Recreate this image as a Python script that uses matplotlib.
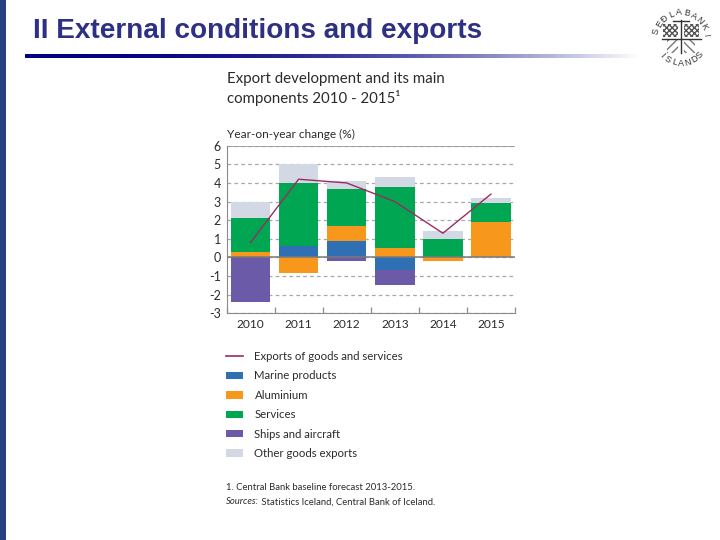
import numpy as np
import matplotlib
matplotlib.use('Agg')
import matplotlib.pyplot as plt
from matplotlib.patches import Rectangle
from matplotlib.lines import Line2D

years = ['2010', '2011', '2012', '2013', '2014', '2015']
y_ticks = [-3, -2, -1, 0, 1, 2, 3, 4, 5, 6]

# stacked components, same order as the legend
marine = [0, 0.6, 0.9, -0.7, 0, 0]
aluminium = [0.3, -0.85, 0.8, 0.5, -0.2, 1.9]
services = [1.8, 3.4, 2.0, 3.3, 1.0, 1.0]
ships = [-2.4, 0, -0.2, -0.8, 0, 0]
other = [0.9, 1.0, 0.4, 0.5, 0.4, 0.3]
exports = [0.8, 4.2, 4.0, 3.0, 1.3, 3.4]

series_names = ['Marine products', 'Aluminium', 'Services', 'Ships and aircraft', 'Other goods exports']
series_values = [marine, aluminium, services, ships, other]
series_colors = ['#2f6fb3', '#f7981d', '#00a651', '#6a5aa8', '#d3d9e4']

FONT = 'Lato'
TEXT = '#2b2b2b'
W, H = 720, 540


def px_axes(fig, left, top, right, bottom):
    # axes position given in image pixels
    return fig.add_axes([left / W, 1 - bottom / H, (right - left) / W, (bottom - top) / H])


fig = plt.figure(figsize=(7.2, 5.4), dpi=100)

# slide furniture, in pixel coordinates
bg = fig.add_axes([0, 0, 1, 1])
bg.set_xlim(0, W)
bg.set_ylim(H, 0)
bg.axis('off')
bg.add_patch(Rectangle((0, 0), 5.5, H, color='#27407f', lw=0))
bg.text(33, 31, 'II External conditions and exports', family='Liberation Sans', fontsize=20.05,
        fontweight='bold', color='#2e3083', ha='left', va='center')
fade = np.linspace(0, 1, 256).reshape(1, -1) ** 2.2
rule = np.array([0, 0, 128 / 255]) * (1 - fade[..., None]) + np.ones(3) * fade[..., None]
bg.imshow(rule, extent=(25, 640, 58, 54), aspect='auto', zorder=1)
bg.set_xlim(0, W)
bg.set_ylim(H, 0)

# bank seal
cx, cy, r = 681, 38, 25.5
for letter, ang in zip('SEÐLABANKI', np.linspace(165, 8, 10)):
    a = np.radians(ang)
    bg.text(cx + r * np.cos(a), cy - r * np.sin(a), letter, fontsize=6.5, family='Liberation Sans',
            color='#333333', ha='center', va='center', rotation=ang - 90)
for letter, ang in zip('ÍSLANDS', np.linspace(222, 318, 7)):
    a = np.radians(ang)
    bg.text(cx + r * np.cos(a), cy - r * np.sin(a), letter, fontsize=6.5, family='Liberation Sans',
            color='#333333', ha='center', va='center', rotation=ang + 90)
bg.add_patch(Rectangle((663, 24), 15, 13, fill=False, hatch='xxxxxx', lw=0, ec='#555555'))
bg.add_patch(Rectangle((684, 24), 15, 13, fill=False, hatch='xxxxxx', lw=0, ec='#555555'))
bg.add_patch(Rectangle((667, 40), 11, 13, fill=False, hatch='////', lw=0, ec='#777777'))
bg.add_patch(Rectangle((684, 40), 11, 13, fill=False, hatch='\\\\\\\\', lw=0, ec='#777777'))
bg.plot([681, 681], [20, 53], color='#333333', lw=1)
bg.plot([673, 689], [21, 21], color='#333333', lw=1)
bg.plot([662, 701], [38.5, 38.5], color='#333333', lw=1)

# chart heading and notes
bg.text(227, 79.5, 'Export development and its main', family=FONT, fontsize=10.85, color=TEXT, va='center')
bg.text(227, 98.5, 'components 2010 - 2015\u00b9', family=FONT, fontsize=10.85, color=TEXT, va='center')
bg.text(227, 134, 'Year-on-year change (%)', family=FONT, fontsize=8.6, color=TEXT, va='center')
bg.text(226, 488, '1. Central Bank baseline forecast 2013-2015.', family=FONT, fontsize=6.85, color=TEXT, va='center')
src = bg.text(226, 502, 'Sources:', family=FONT, fontsize=6.85, style='italic', color=TEXT, va='center')
bg.annotate(' Statistics Iceland, Central Bank of Iceland.', xy=(1, 0), xycoords=src, family=FONT,
            fontsize=6.85, color=TEXT, va='bottom')

# main chart
ax = px_axes(fig, 226.5, 145.7, 515, 313.3)
ax.patch.set_alpha(0)
x = np.arange(len(years))
pos_base = np.zeros(len(years))
neg_base = np.zeros(len(years))
handles = [Line2D([], [], color='#9c2a63', lw=1.2)]
for name, vals, col in zip(series_names, series_values, series_colors):
    vals = np.array(vals, dtype=float)
    base = np.where(vals >= 0, pos_base, neg_base)
    bars = ax.bar(x, vals, width=0.82, bottom=base, color=col, lw=0, zorder=3, label=name)
    handles.append(bars)
    pos_base += np.clip(vals, 0, None)
    neg_base += np.clip(vals, None, 0)

ax.plot(x, exports, color='#9c2a63', lw=1.0, zorder=4)

ax.set_xlim(-0.5, 5.5)
ax.set_ylim(-3, 6)
ax.set_yticks(y_ticks)
ax.set_yticklabels([str(v) for v in y_ticks], family=FONT, fontsize=9, color=TEXT)
ax.set_xticks(np.arange(-0.5, 6, 1))
ax.set_xticklabels([])
ax.set_xticks(x, minor=True)
ax.set_xticklabels(years, minor=True, family=FONT, fontsize=8.6, color=TEXT)
ax.tick_params(axis='x', which='major', direction='in', length=4, width=0.9, color='#8a8a8a')
ax.tick_params(axis='x', which='minor', length=0, pad=4)
ax.tick_params(axis='y', length=0, pad=4)
ax.grid(axis='y', color='#a8a8a8', lw=0.9, ls=(0, (3, 2.5)), zorder=1)
ax.axhline(0, color='#7a7a7a', lw=1.1, zorder=5)
ax.axhline(6, color='#9a9a9a', lw=1.2, zorder=2)
ax.spines['top'].set_visible(False)
ax.spines['right'].set_visible(False)
ax.spines['left'].set_color('#8a8a8a')
ax.spines['bottom'].set_color('#8a8a8a')

leg = fig.legend(handles, ['Exports of goods and services'] + series_names, loc='upper left',
                 bbox_to_anchor=(226 / W, 1 - 351 / H), bbox_transform=fig.transFigure, frameon=False,
                 borderaxespad=0, borderpad=0, handlelength=1.5, handleheight=0.62, handletextpad=1.0,
                 labelspacing=0.74, prop={'family': FONT, 'size': 8.2})
for t in leg.get_texts():
    t.set_color(TEXT)

fig.savefig('out.png', dpi=100)
plt.close(fig)
